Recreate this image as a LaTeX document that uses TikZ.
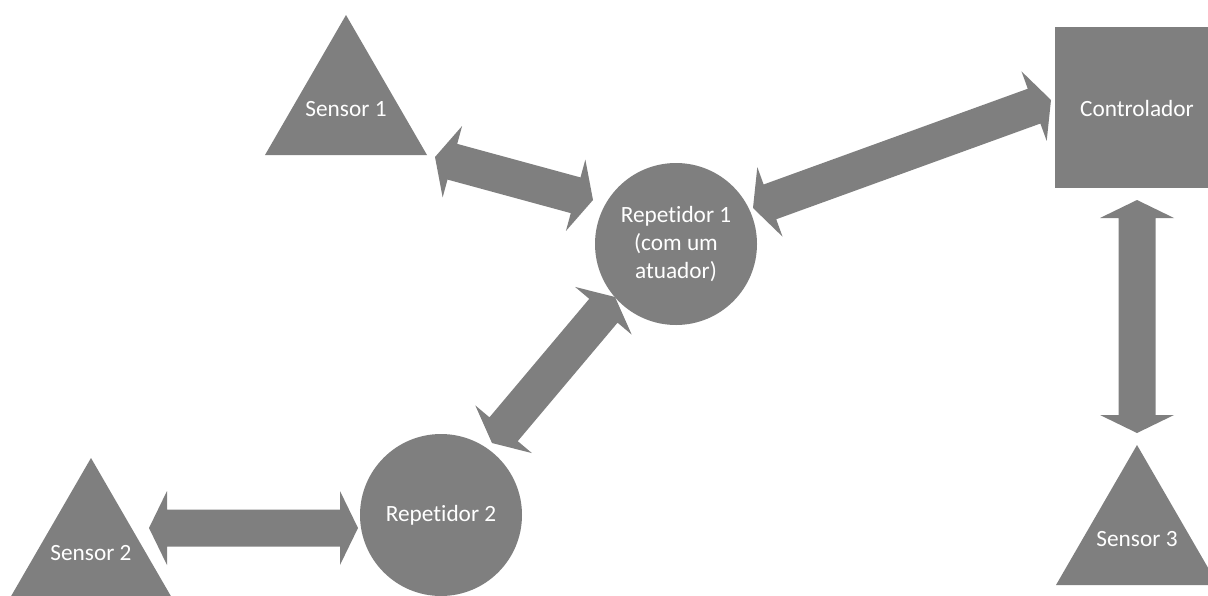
\documentclass[tikz,border=0pt]{standalone}
\usepackage{fontspec}
\setmainfont{Carlito}[Ligatures={NoCommon,NoContextual,NoRare}]
\usetikzlibrary{calc}
\definecolor{shapegray}{RGB}{127,127,127}
\tikzset{
  shapefill/.style={fill=shapegray, draw=none},
  lbl/.style={text=white, font=\fontsize{23.3}{28}\selectfont, inner sep=0pt},
  hub/.style={circle, shapefill, minimum size=162pt, inner sep=0pt,
    align=center, text=white, font=\fontsize{23.3}{28}\selectfont},
}
% Double-headed block arrow between two named points:
% head length 18pt, head half-width 37pt, shaft half-width 18.5pt
\newcommand\blockarrow[2]{%
  \path ($(#1)!18pt!(#2)$) coordinate (ba-p) ($(#2)!18pt!(#1)$) coordinate (ba-q);
  \fill[shapefill] (#1)
    -- ($(ba-p)!37pt!90:(#2)$) -- ($(ba-p)!18.5pt!90:(#2)$)
    -- ($(ba-q)!18.5pt!-90:(#1)$) -- ($(ba-q)!37pt!-90:(#1)$)
    -- (#2)
    -- ($(ba-q)!37pt!90:(#1)$) -- ($(ba-q)!18.5pt!90:(#1)$)
    -- ($(ba-p)!18.5pt!-90:(#2)$) -- ($(ba-p)!37pt!-90:(#2)$)
    -- cycle;
}
\begin{document}
\begin{tikzpicture}[x=1pt,y=-1pt]
\useasboundingbox (0,0) rectangle (1208,595);

% sensors (triangles)
\fill[shapefill] (346,15) -- (427,155) -- (265,155) -- cycle;
\node[lbl, anchor=base] (s1) at (346,116) {Sensor 1};
\fill[shapefill] (91,458) -- (172,598) -- (10,598) -- cycle;
\node[lbl, anchor=base] (s2) at (91,560) {Sensor 2};
\fill[shapefill] (1137,445) -- (1218,585) -- (1056,585) -- cycle;
\node[lbl, anchor=base] (s3) at (1137,546) {Sensor 3};

% controller (square)
\fill[shapefill] (1055,27) rectangle (1219,188);
\node[lbl, anchor=base] (ctl) at (1137,116) {Controlador};

% repeaters (circles); the kern keeps "t" and "i" as separate letters
\node[hub] (r1) at (676,244) {Repet\kern0pt idor 1\\(com um\\atuador)};
\node[hub] (r2) at (441,515) {Repet\kern0pt idor 2};

% arrow end points
\coordinate (s1-r1a) at (435,157);  \coordinate (s1-r1b) at (593,200);
\coordinate (r1-cta) at (753,208);  \coordinate (r1-ctb) at (1051,100);
\coordinate (r1-r2a) at (615,297);  \coordinate (r1-r2b) at (492,443);
\coordinate (s2-r2a) at (149,528);  \coordinate (s2-r2b) at (358,528);
\coordinate (ct-s3a) at (1137,200); \coordinate (ct-s3b) at (1137,433);

% links
\blockarrow{s1-r1a}{s1-r1b}
\blockarrow{r1-cta}{r1-ctb}
\blockarrow{r1-r2a}{r1-r2b}
\blockarrow{s2-r2a}{s2-r2b}
\blockarrow{ct-s3a}{ct-s3b}
\end{tikzpicture}
\end{document}
